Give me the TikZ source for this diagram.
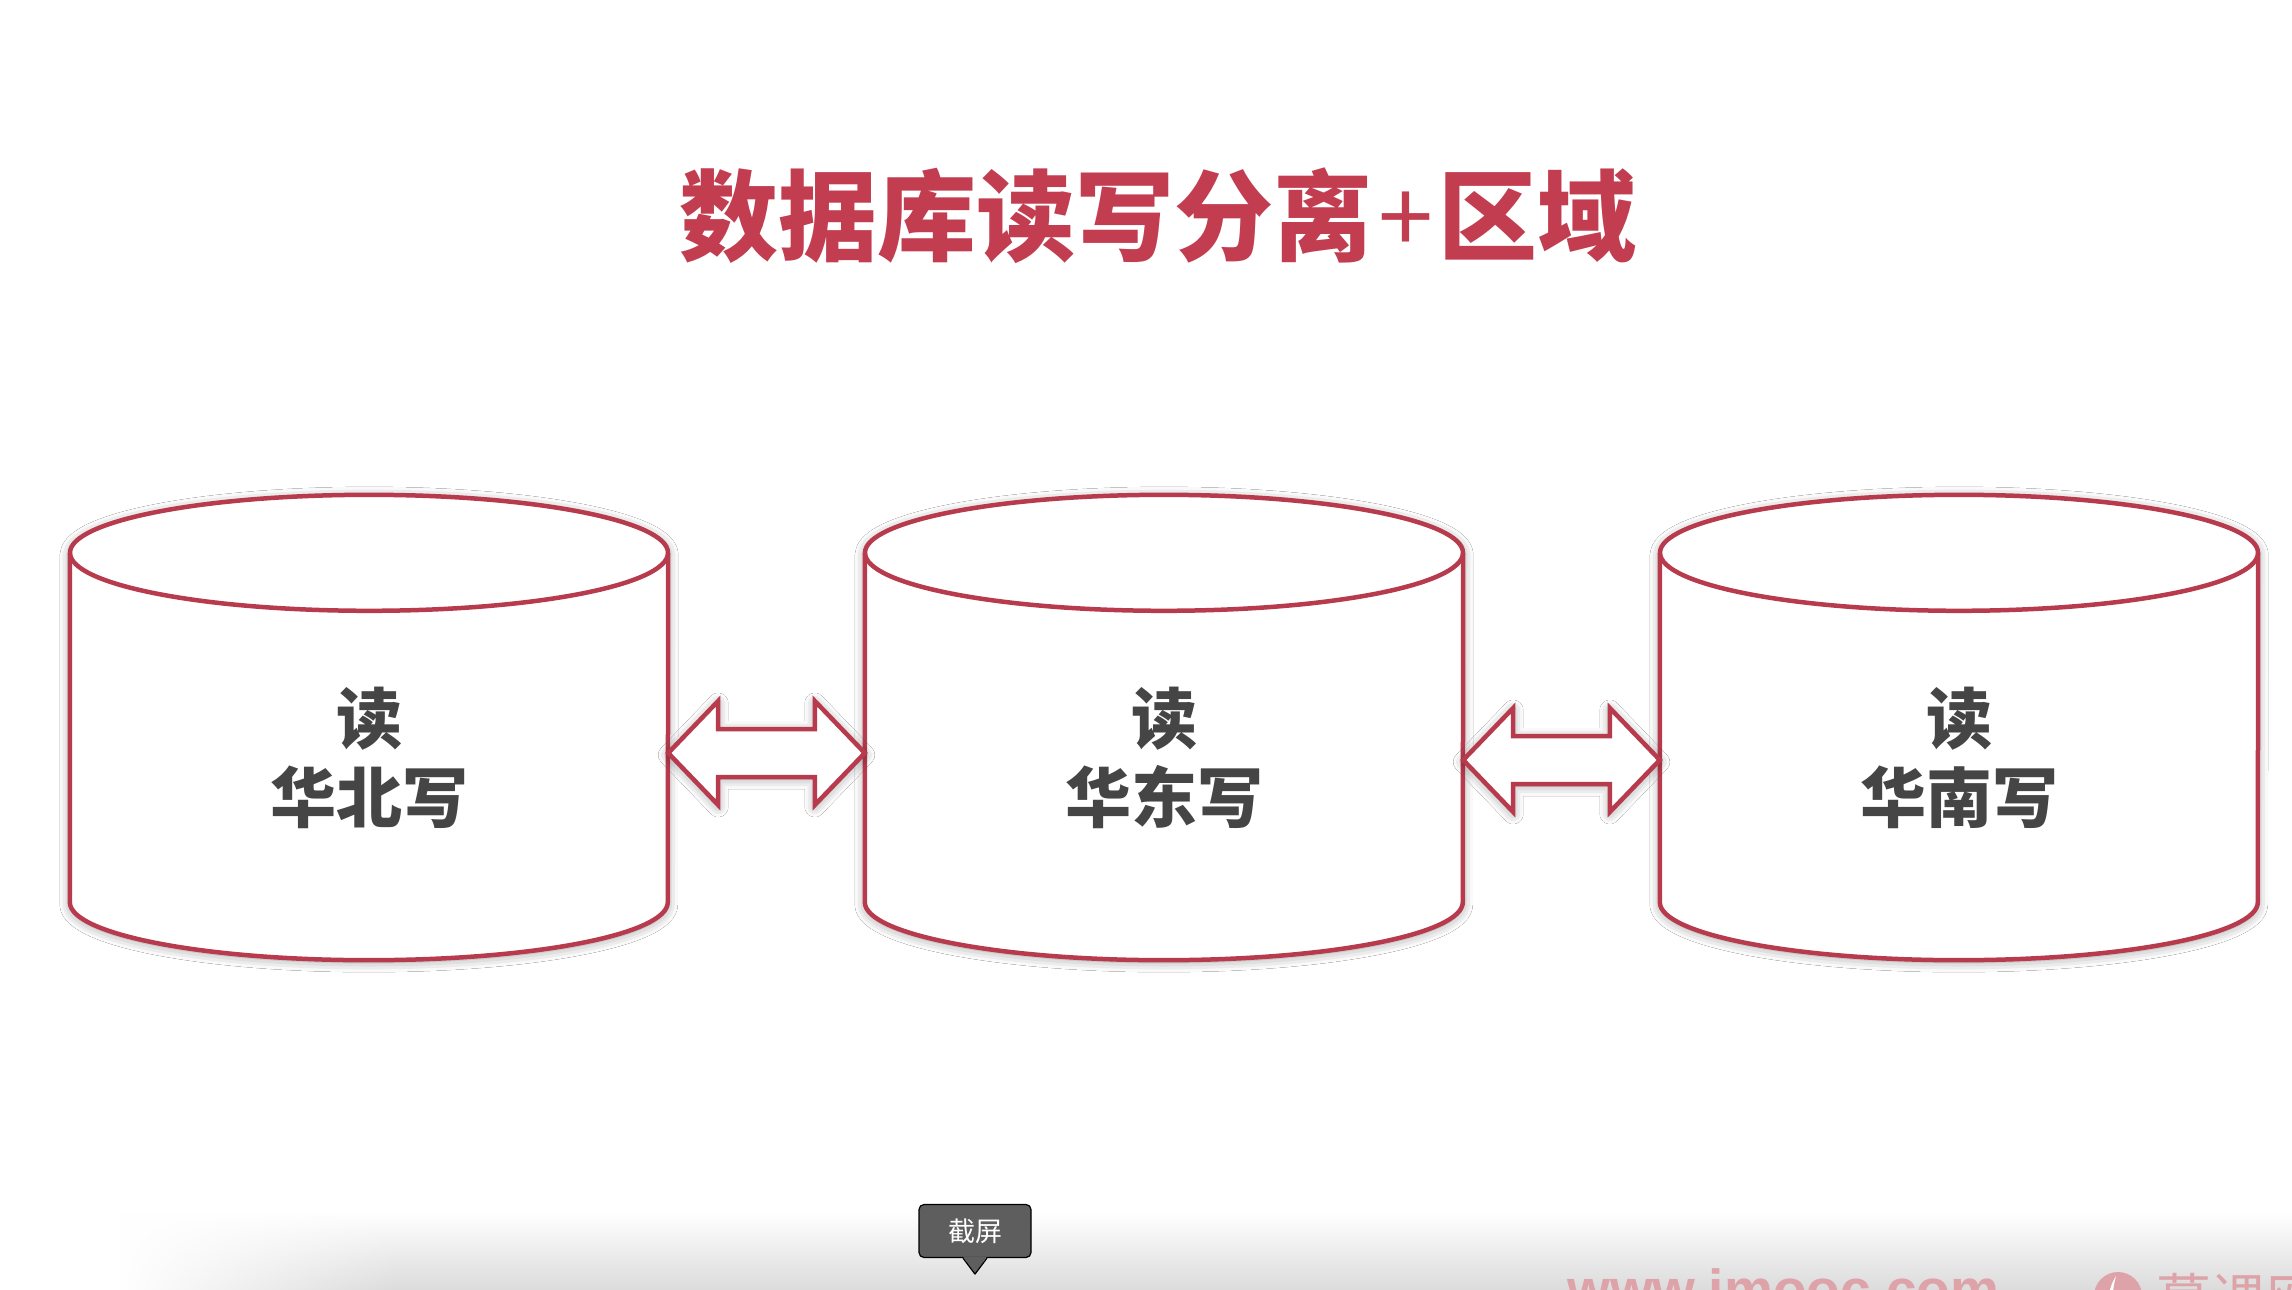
\documentclass[tikz,border=0pt]{standalone}
\usepackage{fontspec}
\newfontfamily\cjk{Noto Sans CJK SC}
\newfontfamily\wmfont{Liberation Sans}
\usetikzlibrary{calc,shadows.blur,fadings}

\definecolor{dbred}{HTML}{B83A4D}
\definecolor{titlered}{HTML}{C23D50}
\definecolor{labelgray}{HTML}{454545}
\definecolor{tipgray}{HTML}{5E5E5F}
\definecolor{wmpink}{HTML}{DDA3A9}

\tikzfading[name=fadeleft, left color=transparent!100, right color=transparent!0]

% cylinder outline around a body node: sides, bottom rim and full top ellipse
\newcommand\drawdb[1]{%
  \path[fill=white, glow] (#1.north west) -- (#1.south west)
     arc[start angle=180, end angle=360, x radius=299pt, y radius=58pt]
     -- (#1.north east)
     arc[start angle=0, end angle=180, x radius=299pt, y radius=58pt] -- cycle;
  \draw[dbline] (#1.north west) -- (#1.south west)
     arc[start angle=180, end angle=360, x radius=299pt, y radius=58pt]
     -- (#1.north east);
  \draw[dbline] (#1.north) ellipse[x radius=299pt, y radius=58pt];
}

% hollow double-headed block arrow between two points
\newcommand\drawlink[2]{%
  \draw[linkarrow] (#1) -- ($(#1)+(50,-52)$) -- ($(#1)+(50,-24)$)
     -- ($(#2)+(-50,-24)$) -- ($(#2)+(-50,-52)$) -- (#2)
     -- ($(#2)+(-50,52)$) -- ($(#2)+(-50,24)$)
     -- ($(#1)+(50,24)$) -- ($(#1)+(50,52)$) -- cycle;
}

\begin{document}
\begin{tikzpicture}[x=1pt, y=-1pt,
  glow/.style={blur shadow={shadow xshift=0pt, shadow yshift=-2pt,
      shadow blur radius=10pt, shadow opacity=40}},
  dbbody/.style={minimum width=598pt, minimum height=349pt, inner sep=0pt},
  dbline/.style={draw=dbred, line width=4.5pt, line join=round},
  linkarrow/.style={draw=dbred, fill=white, line width=4.5pt, line join=miter, glow},
  dblabel/.style={font=\cjk\bfseries\fontsize{66}{79}\selectfont,
      text=labelgray, align=center, inner sep=0pt},
  titletext/.style={font=\cjk\bfseries\fontsize{99}{110}\selectfont,
      text=titlered, inner sep=0pt},
  tipbox/.style={fill=tipgray, draw=black, line width=1.2pt, rounded corners=5pt,
      minimum width=112pt, minimum height=53pt, inner sep=0pt, text=white,
      font=\cjk\fontsize{27}{30}\selectfont},
  watermark/.style={anchor=base west, inner sep=0pt, text=wmpink},
]
\clip (0,0) rectangle (2292,1290);
\fill[white] (0,0) rectangle (2292,1290);

% bottom bar shading
\shade[top color=white, bottom color=black!14] (400,1212) rectangle (2292,1290);
\shade[top color=white, bottom color=black!14, path fading=fadeleft]
   (120,1212) rectangle (400,1290);

% title
\node[titletext] (title) at (1158,216)
   {数据库读写分离\kern6pt{\mdseries +}\kern6pt 区域};

% database bodies
\node[dbbody] (db1) at (369,727.5) {};
\node[dbbody] (db2) at (1164,727.5) {};
\node[dbbody] (db3) at (1959,727.5) {};

\drawdb{db1}
\drawdb{db2}
\drawdb{db3}

\node[dblabel] (t1) at ($(db1.center)+(0,30)$) {读\\华北写};
\node[dblabel] (t2) at ($(db2.center)+(0,30)$) {读\\华东写};
\node[dblabel] (t3) at ($(db3.center)+(0,30)$) {读\\华南写};

% links between regions
\coordinate (l1a) at (db1.east |- 0,753);
\coordinate (l1b) at (db2.west |- 0,753);
\coordinate (l2a) at (db2.east |- 0,760);
\coordinate (l2b) at (db3.west |- 0,760);
\drawlink{l1a}{l1b}
\drawlink{l2a}{l2b}

% screenshot tooltip
\node[tipbox] (tip) at (975,1231) {截屏};
\fill[tipgray] ($(tip.south)+(-12,-1.5)$) -- ($(tip.south)+(0,16)$)
   -- ($(tip.south)+(12,-1.5)$) -- cycle;
\draw[black, line width=1.2pt, line join=round] ($(tip.south)+(-12,0)$)
   -- ($(tip.south)+(0,16)$) -- ($(tip.south)+(12,0)$);

% watermark
\node[watermark, font=\wmfont\bfseries\fontsize{55}{60}\selectfont] (wm)
   at (1567,1308) {www.imooc.com};
\node[circle, fill=wmpink, minimum size=48pt, inner sep=0pt] (logo) at (2118,1296) {};
\fill[white] ($(logo.center)+(-2,-20)$)
   .. controls ($(logo.center)+(-12,-4)$) and ($(logo.center)+(-10,10)$)
   .. ($(logo.center)+(-3,16)$)
   .. controls ($(logo.center)+(-6,6)$) and ($(logo.center)+(-6,-6)$)
   .. cycle;
\node[watermark, font=\cjk\fontsize{55}{60}\selectfont] (wmcn)
   at (2156,1319) {慕课网};
\end{tikzpicture}
\end{document}
